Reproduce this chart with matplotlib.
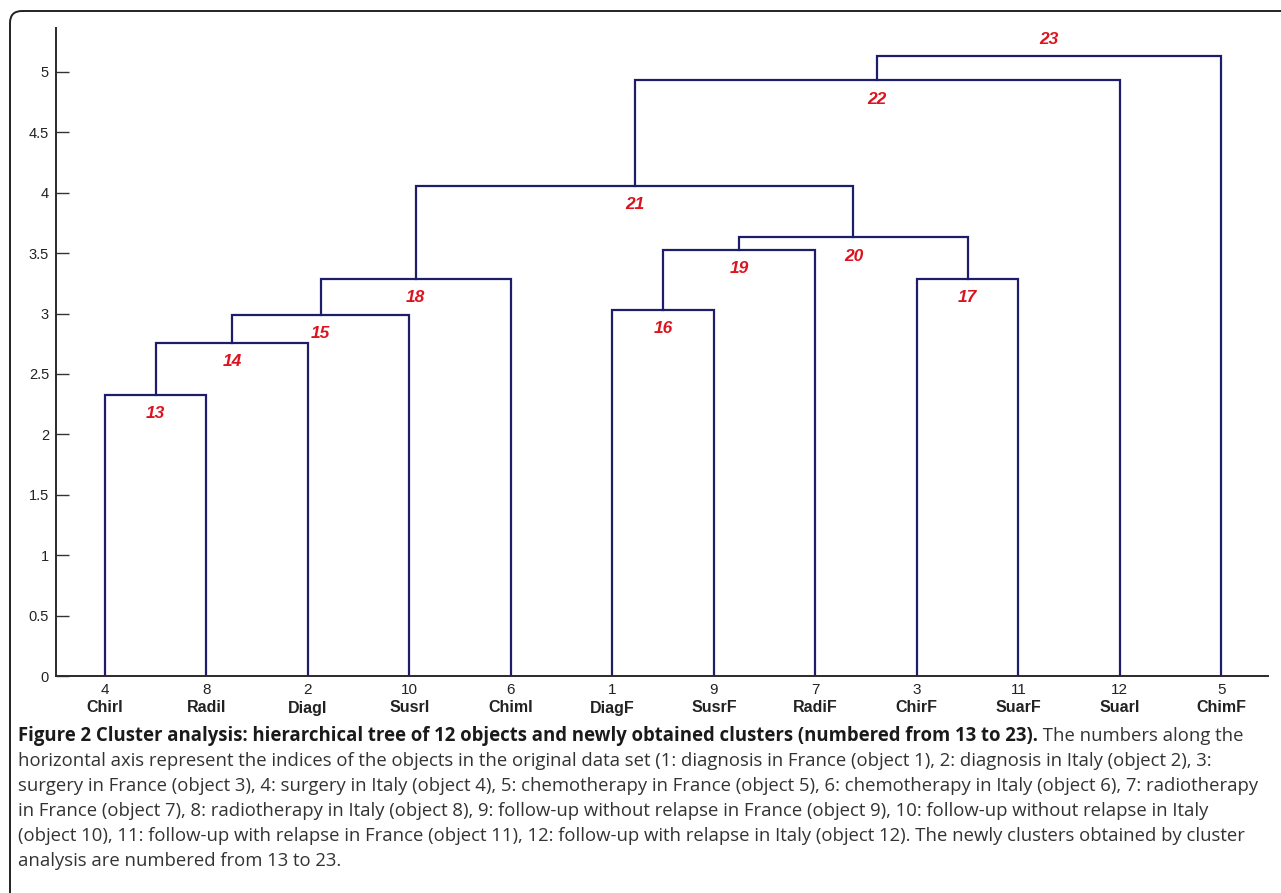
import matplotlib
matplotlib.use('Agg')
import matplotlib.pyplot as plt
from matplotlib.patches import FancyBboxPatch
import numpy as np

# objects in the order they appear along the axis
leaf_ids = [4, 8, 2, 10, 6, 1, 9, 7, 3, 11, 12, 5]
leaf_names = ['ChirI', 'RadiI', 'DiagI', 'SusrI', 'ChimI', 'DiagF',
              'SusrF', 'RadiF', 'ChirF', 'SuarF', 'SuarI', 'ChimF']

# merge table: new cluster, the two nodes it joins, linkage height
cluster_ids = list(range(13, 24))
left_nodes = [4, 13, 14, 1, 3, 15, 16, 19, 18, 21, 22]
right_nodes = [8, 2, 10, 9, 11, 6, 7, 17, 20, 12, 5]
heights = [2.33, 2.76, 2.99, 3.03, 3.29, 3.29, 3.53, 3.63, 4.06, 4.93, 5.13]

yticks = np.arange(0, 5.01, 0.5)

caption_bold = ("Figure 2 Cluster analysis: hierarchical tree of 12 objects and newly "
                "obtained clusters (numbered from 13 to 23).")
caption_lines = [
    " The numbers along the",
    "horizontal axis represent the indices of the objects in the original data set (1: diagnosis in France (object 1), 2: diagnosis in Italy (object 2), 3:",
    "surgery in France (object 3), 4: surgery in Italy (object 4), 5: chemotherapy in France (object 5), 6: chemotherapy in Italy (object 6), 7: radiotherapy",
    "in France (object 7), 8: radiotherapy in Italy (object 8), 9: follow-up without relapse in France (object 9), 10: follow-up without relapse in Italy",
    "(object 10), 11: follow-up with relapse in France (object 11), 12: follow-up with relapse in Italy (object 12). The newly clusters obtained by cluster",
    "analysis are numbered from 13 to 23.",
]

narrow = ['Liberation Sans Narrow', 'Liberation Sans', 'DejaVu Sans']
line_col = '#1d1d6b'
label_col = '#dc1420'

W, H = 1281, 893
fig = plt.figure(figsize=(W / 100, H / 100), dpi=100)

# full-figure layer in pixel units for the frame and the caption
bg = fig.add_axes([0, 0, 1, 1])
bg.set_xlim(0, W)
bg.set_ylim(H, 0)
bg.axis('off')
frame = FancyBboxPatch((10, 11), 1320, 920, boxstyle='round,pad=0,rounding_size=12',
                       fill=False, ec='#222222', lw=1.4)
bg.add_patch(frame)

ax = fig.add_axes([56 / W, (H - 676) / H, (1268 - 56) / W, (676 - 28) / H])
ax.set_facecolor('none')

# walk the merge table and draw each link as a bracket
pos = {leaf: (i + 1, 0.0) for i, leaf in enumerate(leaf_ids)}
for cid, a, b, h in zip(cluster_ids, left_nodes, right_nodes, heights):
    xa, ya = pos[a]
    xb, yb = pos[b]
    ax.plot([xa, xa, xb, xb], [ya, h, h, yb], color=line_col, lw=1.6,
            solid_joinstyle='miter')
    xm = (xa + xb) / 2
    pos[cid] = (xm, h)
    dy = 0.14 if cid == cluster_ids[-1] else -0.155
    ax.text(xm, h + dy, str(cid), color=label_col, fontsize=12.5,
            fontweight='bold', fontstyle='italic', family=['Liberation Sans', 'DejaVu Sans'],
            ha='center', va='center')

ax.set_xlim(0.517, 12.46)
ax.set_ylim(0, 5.364)
for s in ['top', 'right']:
    ax.spines[s].set_visible(False)
for s in ['left', 'bottom']:
    ax.spines[s].set_color('#2a2a2a')
    ax.spines[s].set_linewidth(1.4)

ax.set_yticks(yticks)
ax.set_yticklabels(['%g' % v for v in yticks], family=narrow, fontsize=10.5, color='#222222')
ax.tick_params(axis='y', direction='in', length=9, width=1.0, color='#333333', pad=5)
ax.set_xticks([])

for i, (num, name) in enumerate(zip(leaf_ids, leaf_names)):
    ax.annotate(str(num), xy=(i + 1, 0), xycoords=('data', 'axes fraction'),
                xytext=(0, -14), textcoords='offset pixels', ha='center', va='center',
                family=narrow, fontsize=11, color='#222222')
    ax.annotate(name, xy=(i + 1, 0), xycoords=('data', 'axes fraction'),
                xytext=(0, -32), textcoords='offset pixels', ha='center', va='center',
                family=narrow, fontsize=11.5, fontweight='bold', color='#222222')

# caption, sized so the widest line fits inside the frame
cap_font = ['Open Sans', 'DejaVu Sans']
cap_size = 12.0
fig.canvas.draw()
renderer = fig.canvas.get_renderer()
widths = []
pb = bg.text(0, 0, caption_bold, family=cap_font, fontsize=cap_size, fontweight='bold')
pr = bg.text(0, 0, caption_lines[0], family=cap_font, fontsize=cap_size)
widths.append(pb.get_window_extent(renderer).width + pr.get_window_extent(renderer).width)
pb.remove()
pr.remove()
for line in caption_lines[1:]:
    p = bg.text(0, 0, line, family=cap_font, fontsize=cap_size)
    widths.append(p.get_window_extent(renderer).width)
    p.remove()
cap_size = cap_size * 1236 / max(widths)

y0, step = 736, 25
tb = bg.text(18, y0, caption_bold, family=cap_font, fontsize=cap_size,
             fontweight='bold', color='#1a1a1a', va='center', ha='left')
fig.canvas.draw()
x_end = bg.transData.inverted().transform((tb.get_window_extent().x1, 0))[0]
bg.text(x_end, y0, caption_lines[0], family=cap_font, fontsize=cap_size,
        color='#333333', va='center', ha='left')
for k, line in enumerate(caption_lines[1:]):
    bg.text(18, y0 + step * (k + 1), line, family=cap_font, fontsize=cap_size,
            color='#333333', va='center', ha='left')

fig.savefig('out.png', dpi=100)
